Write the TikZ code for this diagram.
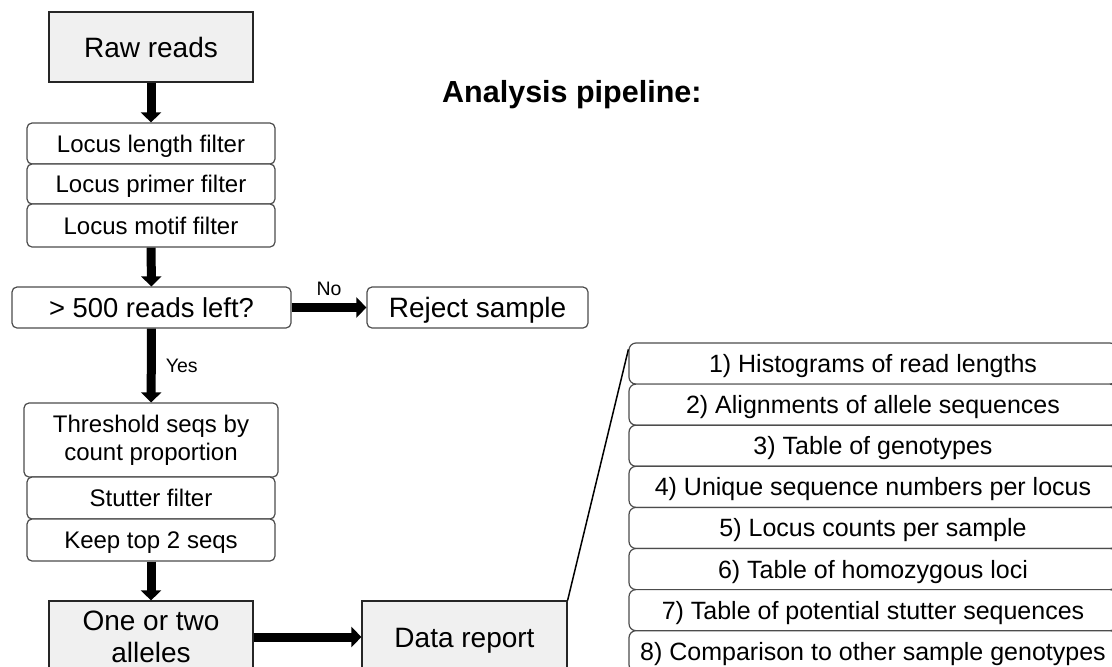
\documentclass[tikz,border=0pt]{standalone}
\usepackage{fontspec}
\setmainfont{Liberation Sans}
\usetikzlibrary{arrows.meta}
\tikzset{
  rbox/.style={draw=black!70, line width=1.2pt, rounded corners=5pt, fill=white, inner sep=0pt, font=\fontsize{24}{28}\selectfont, align=center},
  gbox/.style={draw=black!85, line width=1.2pt, fill=black!6, inner sep=0pt, font=\fontsize{28}{32}\selectfont, align=center},
  caph/.style={text height=#1, text depth=0pt},
  lbox/.style={rbox, caph=17.9pt, rounded corners=7pt, minimum width=488pt, minimum height=41.1pt, font=\fontsize{25}{28}\selectfont},
  blk/.style={line width=9pt, -{Triangle[width=20pt,length=10pt]}},
  lab/.style={font=\fontsize{19.5}{22}\selectfont, inner sep=0pt},
}
\begin{document}
\begin{tikzpicture}[x=1pt,y=-1pt]
\useasboundingbox (0,0) rectangle (1112,667);
%\draw[help lines] (0,0) grid[step=50] (1112,667);
\node[gbox, caph=20pt, minimum width=204pt, minimum height=70pt] (raw) at (151,47) {Raw reads};
\node[rbox, caph=17.2pt, minimum width=248pt, minimum height=41pt] (len) at (151,143.5) {Locus length filter};
\node[rbox, caph=17.2pt, minimum width=248pt, minimum height=40pt] (pri) at (151,184) {Locus primer filter};
\node[rbox, caph=17.2pt, minimum width=248pt, minimum height=43pt] (mot) at (151,225.5) {Locus motif filter};
\node[rbox, caph=19.6pt, minimum width=279pt, minimum height=41pt, font=\fontsize{27.4}{30}\selectfont] (q) at (151.5,307.5) {> 500 reads left?};
\node[rbox, caph=20pt, minimum width=221pt, minimum height=41pt, font=\fontsize{28}{30}\selectfont] (rej) at (477.5,307.5) {Reject sample};
\node[rbox, minimum width=254pt, minimum height=74pt] (thr) at (151,440) {Threshold seqs by\\count proportion};
\node[rbox, caph=17.2pt, minimum width=248pt, minimum height=42pt] (stu) at (151,498) {Stutter filter};
\node[rbox, caph=17.2pt, minimum width=248pt, minimum height=42pt] (keep) at (151,540) {Keep top 2 seqs};
\node[gbox, minimum width=204pt, minimum height=72pt] (all) at (151,637) {One or two\\alleles};
\node[gbox, caph=20pt, minimum width=205pt, minimum height=72pt] (rep) at (464.5,637) {Data report};
\node[anchor=west, inner sep=0pt, font=\fontsize{30.5}{34}\selectfont\bfseries] (ttl) at (442,95) {Analysis pipeline:};
\foreach \t [count=\i] in {Histograms of read lengths, Alignments of allele sequences, Table of genotypes, Unique sequence numbers per locus, Locus counts per sample, Table of homozygous loci, Table of potential stutter sequences, Comparison to other sample genotypes}
  \node[lbox] (l\i) at (873,{363.55+41.1*(\i-1)}) {\i) \t};
\draw[blk] (raw) -- (len);
\draw[blk] (mot) -- (q);
\draw[blk] (q) -- (rej) node[lab, midway, above=7pt] {No};
\draw[blk] (q) -- (thr) node[lab, midway, right=10pt] {Yes};
\draw[blk] (keep) -- (all);
\draw[blk] (all) -- (rep);
\draw[line width=1.5pt] (rep.north east) -- ([yshift=-7pt]l1.north west);
\end{tikzpicture}
\end{document}
